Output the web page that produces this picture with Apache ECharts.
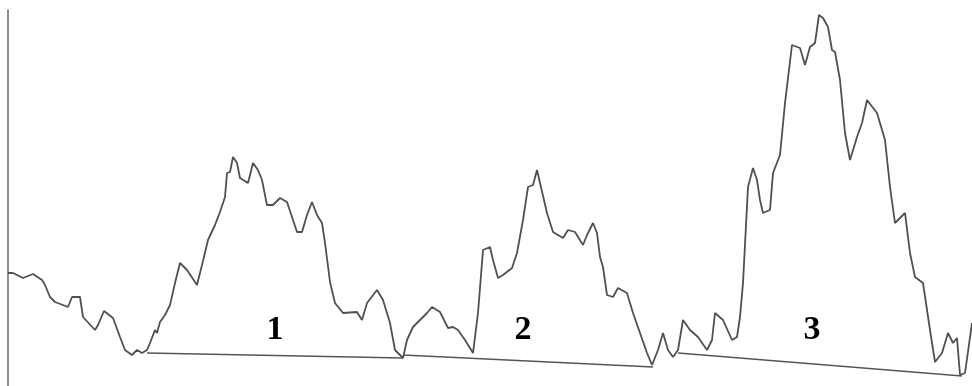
<!DOCTYPE html>
<html>
<head>
<meta charset="utf-8">
<script src="https://cdn.jsdelivr.net/npm/echarts@6/dist/echarts.min.js"></script>
<style>
  html, body { margin: 0; padding: 0; background: #fff; }
  #chart { width: 972px; height: 386px; }
</style>
</head>
<body>
<div id="chart"></div>
<script>
// Time steps and price levels of the traced series
const steps = [0,5,15,25,34,37,42,47,60,64,72,75,87,90,96,105,112,117,124,129,134,139,142,144,147,149,152,154,157,159,162,167,172,179,189,194,200,202,207,209,212,214,217,219,222,225,229,232,240,245,250,254,259,265,272,279,284,289,294,299,304,309,314,317,322,327,335,349,354,359,369,375,382,387,392,395,399,405,412,419,424,432,440,445,450,457,465,470,475,482,485,490,495,504,509,515,520,525,529,532,539,545,555,560,567,575,579,585,589,592,595,599,605,610,619,625,632,639,644,650,655,660,665,670,675,682,690,699,704,707,715,724,729,732,735,740,745,749,752,755,762,765,772,777,784,792,797,802,807,811,815,820,824,827,832,837,842,849,854,859,869,877,882,887,897,902,907,915,922,927,934,940,945,949,952,957,964];
const levels = [113,113,108,112,106,101,89,84,79,89,89,69,56,61,75,68,49,36,31,36,33,36,43,41,56,53,64,62,71,69,81,103,123,116,101,121,146,144,161,159,174,172,189,213,214,229,223,208,203,223,216,206,181,181,188,184,169,154,154,171,184,171,163,143,104,83,73,74,66,83,96,86,63,36,31,28,46,59,66,73,79,74,58,59,56,46,33,73,136,139,126,108,111,118,133,166,199,201,216,203,173,154,148,156,154,141,151,163,153,129,119,91,89,98,93,73,53,33,21,36,53,36,29,36,66,56,49,36,46,73,66,46,49,69,103,199,218,206,186,173,176,213,231,283,341,338,321,339,343,371,368,359,336,334,306,253,226,249,263,286,273,246,199,163,173,133,109,103,56,24,33,53,43,48,11,13,63];

// Support lines joining the troughs that bound each swing
const supportSteps = [[139, 395], [395, 645], [670, 954]];
const supportLevels = [[33, 28], [31, 19], [33, 10]];

// Swing numbers and where they sit
const swingLabels = ['1', '2', '3'];
const labelSteps = [267, 515, 804];
const labelLevels = [56, 56, 56];

const chart = echarts.init(document.getElementById('chart'), null, { renderer: 'canvas' });

const pricePoints = steps.map((s, i) => [s, levels[i]]);

const supportSeries = supportSteps.map((xs, k) => ({
  type: 'line',
  data: xs.map((x, j) => [x, supportLevels[k][j]]),
  symbol: 'none',
  silent: true,
  lineStyle: { color: '#555', width: 1.3 },
  z: 2
}));

chart.setOption({
  animation: false,
  backgroundColor: '#ffffff',
  grid: { left: 8, right: 0, top: 10, bottom: 0 },
  xAxis: {
    type: 'value', min: 0, max: 964,
    axisLine: { show: false }, axisTick: { show: false },
    axisLabel: { show: false }, splitLine: { show: false }
  },
  yAxis: {
    type: 'value', min: 0, max: 376,
    axisLine: { show: true, lineStyle: { color: '#6a6a6a', width: 1.5 } },
    axisTick: { show: false }, axisLabel: { show: false }, splitLine: { show: false }
  },
  series: [
    {
      type: 'line',
      data: pricePoints,
      symbol: 'none',
      lineStyle: { color: '#505050', width: 1.8 },
      z: 3
    },
    ...supportSeries,
    {
      type: 'scatter',
      data: labelSteps.map((x, i) => ({ value: [x, labelLevels[i]], name: swingLabels[i] })),
      symbolSize: 0,
      itemStyle: { opacity: 1 },
      label: {
        show: true,
        position: 'inside',
        formatter: p => p.name,
        fontFamily: 'Liberation Serif',
        fontWeight: 'bold',
        fontSize: 34,
        color: '#000',
        opacity: 1
      },
      z: 4
    }
  ]
});
</script>
</body>
</html>
